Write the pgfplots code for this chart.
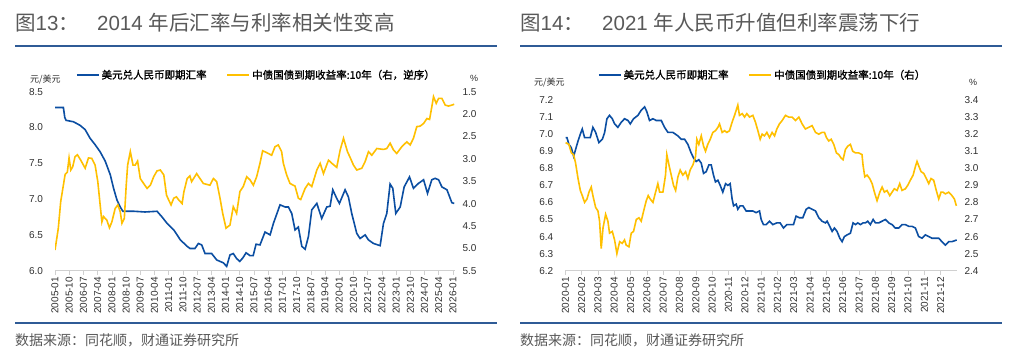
\documentclass[border=0pt]{standalone}
\usepackage{pgfplots}
\usepackage{pgfplotstable}
\pgfplotsset{compat=1.18}
\usepackage{fontspec}
\setmainfont{Liberation Sans}
\newfontfamily\cjk{Noto Sans CJK SC}
\newfontfamily\cjkb{Noto Sans CJK SC}[FakeBold=1.5]
\definecolor{cblue}{HTML}{0B4EA2}
\definecolor{cyellow}{HTML}{FFC000}
\definecolor{rulec}{HTML}{2F5B96}
\definecolor{titlegray}{HTML}{595959}
\definecolor{axgray}{HTML}{D0D0D0}
\definecolor{labgray}{HTML}{303030}

\pgfplotstableread{
x y
0 8.28
5.3 8.28
6.2 8.14
7.0 8.10
11.7 8.08
15.9 8.03
19.1 7.97
22.2 7.85
25.4 7.76
28.6 7.66
31.8 7.53
35 7.34
37.1 7.15
39.2 6.99
41.3 6.89
43 6.83
50 6.83
57 6.82
64.6 6.83
67.8 6.75
71 6.66
75.2 6.57
79.4 6.43
83.7 6.34
85.5 6.31
88.6 6.31
90.8 6.38
92.9 6.36
95 6.24
99.2 6.24
102.4 6.15
106.6 6.11
108.7 6.06
110.8 6.22
112.9 6.24
115 6.17
117 6.13
119 6.18
121 6.25
123.5 6.21
125.5 6.21
127.3 6.37
129.8 6.36
133 6.54
136.2 6.50
138.3 6.66
142.5 6.92
145.7 6.89
147.8 6.89
149.9 6.80
152 6.57
154.1 6.61
156.3 6.34
158.4 6.30
160.5 6.48
162.6 6.85
165.8 6.94
168.9 6.73
172.1 6.89
174.2 6.90
175.9 7.13
178.4 7.01
180.1 6.94
183.7 7.13
185.8 7.03
187.9 6.80
191.1 6.52
193.2 6.45
196.4 6.50
198.5 6.43
201.7 6.38
205.9 6.35
208 6.66
210.1 6.80
212.2 7.21
213.9 7.15
215.8 6.80
218.6 6.89
221.1 7.17
224.5 7.31
227 7.15
230.2 7.22
233.4 7.27
235.9 7.08
238.6 7.27
240.7 7.29
242.9 7.27
245 7.17
248.2 7.13
251.3 6.95
252.8 6.94
}\leftblue

\pgfplotstableread{
x y
0 5.04
2.1 4.55
3.6 3.96
5.3 3.59
6.4 3.35
7.8 3.30
8.9 2.98
10 3.25
11.2 3.18
12.7 2.95
14.2 2.91
16.3 3.03
19.1 3.21
21.2 2.98
23.3 2.99
25.4 3.14
27.1 3.51
28.6 4.03
29.7 4.41
30.7 4.29
32.8 4.37
34.5 4.54
36 4.41
38.1 4.11
39.8 4.03
41.3 4.18
42.4 4.44
43.9 4.33
45.1 3.59
46 3.14
47.7 2.84
49.4 3.14
50.8 3.14
52.3 3.05
54 3.44
56.1 3.55
58.3 3.66
60.4 3.59
62.5 3.40
64.6 3.27
66.7 3.25
68.9 3.36
70.6 3.81
72 3.92
73.5 4.03
75.2 3.88
76.9 3.85
78.4 3.92
80.5 4.00
81.6 3.74
83.7 3.44
85.4 3.38
86.5 3.51
89.7 3.33
91.8 3.44
93.9 3.55
98.1 3.59
100.3 3.44
102.4 3.51
104.5 3.88
106.2 4.22
108.3 4.55
110.8 4.48
112.9 4.07
115 4.22
117.1 3.73
119.2 3.62
121.4 3.40
123.5 3.47
125.6 3.59
127.7 3.40
129.8 3.10
131.5 2.82
134 2.86
137.2 2.92
139.3 2.73
141.4 2.69
143.5 2.84
144.6 3.10
146.7 3.36
148.8 3.55
152 3.61
154.1 3.88
155.6 3.91
158.4 3.66
160.5 3.55
162.6 3.62
165.8 3.25
167.9 3.10
170 3.33
173.2 3.03
175.3 3.10
178.4 3.19
180.6 2.80
182.7 2.54
185.2 2.84
186.9 2.97
189 3.14
191.1 3.25
194.3 3.21
196.4 3.06
198.5 2.84
200.6 2.92
203.8 2.77
208 2.79
210.1 2.77
212.2 2.65
214.3 2.80
216.4 2.88
219.6 2.73
222.8 2.62
224.9 2.69
227 2.54
229.1 2.28
231.2 2.27
233.4 2.21
235.5 2.10
237.2 2.12
238.6 1.84
239.7 1.61
241.4 1.76
242.9 1.65
245 1.65
247.1 1.80
249.2 1.82
251.3 1.80
252.8 1.78
}\leftyellow

\pgfplotstableread{
x y
0.02 6.98
0.1 6.98
0.22 6.94
0.37 6.92
0.51 6.87
0.63 6.91
0.78 6.96
0.92 7.00
1.04 7.03
1.18 6.98
1.39 6.98
1.53 6.98
1.69 7.04
1.86 7.01
2.06 6.95
2.27 6.97
2.41 7.01
2.55 7.09
2.71 7.11
2.88 7.09
3.02 7.06
3.22 7.04
3.43 7.07
3.63 7.09
3.84 7.08
3.98 7.06
4.18 7.09
4.45 7.11
4.65 7.14
4.86 7.16
5.0 7.13
5.16 7.08
5.37 7.09
5.57 7.08
5.88 7.08
6.08 7.04
6.29 7.01
6.59 7.01
6.9 6.99
7.1 6.97
7.31 6.97
7.51 6.94
7.71 6.89
7.86 6.86
8.02 6.84
8.18 6.85
8.33 6.83
8.47 6.77
8.63 6.78
8.8 6.82
8.94 6.82
9.08 6.76
9.2 6.72
9.35 6.73
9.49 6.70
9.65 6.66
9.82 6.71
9.96 6.70
10.1 6.71
10.22 6.62
10.31 6.58
10.47 6.59
10.57 6.56
10.71 6.58
10.88 6.58
11.08 6.55
11.29 6.55
11.49 6.55
11.69 6.54
11.9 6.55
12.0 6.50
12.14 6.47
12.31 6.47
12.51 6.49
12.71 6.47
12.96 6.48
13.16 6.48
13.37 6.45
13.57 6.47
13.78 6.47
13.98 6.47
14.14 6.52
14.35 6.51
14.55 6.51
14.76 6.56
14.92 6.57
15.12 6.56
15.33 6.55
15.53 6.51
15.73 6.49
15.94 6.48
16.04 6.49
16.2 6.46
16.35 6.43
16.49 6.45
16.65 6.43
16.82 6.39
16.96 6.37
17.1 6.40
17.27 6.41
17.47 6.42
17.63 6.48
17.78 6.47
17.92 6.48
18.08 6.47
18.24 6.48
18.39 6.48
18.53 6.49
18.69 6.47
18.86 6.50
19.0 6.48
19.2 6.48
19.41 6.49
19.61 6.50
19.82 6.48
20.02 6.47
20.22 6.45
20.43 6.45
20.63 6.47
20.84 6.47
21.04 6.46
21.24 6.46
21.45 6.45
21.65 6.40
21.86 6.39
22.06 6.41
22.27 6.40
22.47 6.39
22.67 6.39
22.88 6.39
23.08 6.37
23.29 6.35
23.49 6.37
23.69 6.37
23.98 6.38
}\rightblue

\pgfplotstableread{
x y
0.02 3.15
0.22 3.14
0.37 3.09
0.51 3.08
0.63 3.03
0.78 2.94
0.92 2.87
1.04 2.84
1.18 2.80
1.33 2.82
1.45 2.86
1.59 2.89
1.69 2.84
1.86 2.77
2.0 2.75
2.1 2.69
2.2 2.53
2.31 2.65
2.47 2.73
2.61 2.69
2.71 2.62
2.88 2.63
3.02 2.58
3.16 2.50
3.33 2.57
3.49 2.56
3.63 2.58
3.73 2.55
3.9 2.54
4.04 2.62
4.18 2.63
4.35 2.70
4.51 2.71
4.65 2.69
4.8 2.75
4.96 2.81
5.08 2.84
5.2 2.82
5.37 2.80
5.53 2.86
5.67 2.91
5.78 2.86
5.98 2.86
6.14 2.96
6.22 3.08
6.35 3.02
6.49 2.96
6.63 2.90
6.76 2.87
6.9 2.95
7.04 2.99
7.2 2.96
7.37 2.98
7.51 2.94
7.65 2.99
7.82 3.02
7.98 3.07
8.06 3.17
8.18 3.14
8.33 3.19
8.47 3.13
8.59 3.10
8.73 3.14
8.88 3.17
9.04 3.21
9.2 3.22
9.35 3.24
9.45 3.26
9.61 3.21
9.76 3.22
9.9 3.21
10.06 3.22
10.22 3.27
10.37 3.31
10.47 3.34
10.57 3.37
10.67 3.31
10.84 3.32
10.98 3.30
11.12 3.32
11.29 3.30
11.49 3.31
11.65 3.27
11.8 3.22
11.94 3.17
12.06 3.20
12.2 3.19
12.35 3.21
12.51 3.18
12.67 3.21
12.82 3.19
12.96 3.23
13.12 3.26
13.29 3.28
13.49 3.31
13.69 3.30
13.9 3.30
14.1 3.28
14.31 3.30
14.51 3.26
14.71 3.23
14.92 3.24
15.12 3.25
15.33 3.21
15.53 3.20
15.73 3.21
15.88 3.21
16.0 3.18
16.14 3.16
16.29 3.17
16.45 3.14
16.61 3.09
16.76 3.08
16.9 3.06
17.02 3.05
17.16 3.11
17.31 3.13
17.47 3.14
17.61 3.10
17.78 3.09
17.98 3.09
18.18 3.08
18.24 3.02
18.35 2.95
18.49 2.96
18.65 2.94
18.8 2.91
18.94 2.86
19.1 2.81
19.27 2.86
19.41 2.89
19.55 2.86
19.71 2.87
19.88 2.84
20.02 2.86
20.16 2.88
20.33 2.87
20.49 2.91
20.63 2.87
20.84 2.88
20.98 2.90
21.14 2.93
21.31 2.96
21.45 3.01
21.55 3.04
21.67 3.01
21.8 2.98
21.96 2.97
22.12 2.94
22.27 2.91
22.41 2.94
22.57 2.93
22.73 2.87
22.88 2.82
23.02 2.86
23.14 2.86
23.29 2.85
23.49 2.86
23.69 2.84
23.84 2.82
23.96 2.78
}\rightyellow

\pgfplotsset{
  basestyle/.style={
    scale only axis, anchor=south west,
    /pgf/number format/assume math mode=true,
    tick label style={font=\fontsize{10}{12}\selectfont, text=labgray},
    tick align=outside, major tick length=4pt,
    ytick style={draw=none},
    y axis line style={draw=none},
    yticklabel={\pgfmathprintnumber[fixed,fixed zerofill,precision=1]{\tick}},
  },
  leftax/.style={basestyle,
    axis x line*=bottom, axis y line*=left,
    x axis line style={draw=axgray, line width=0.8pt, -},
    xtick style={draw=axgray, line width=0.6pt},
    xticklabel style={rotate=90, anchor=east, inner sep=2pt},
    yticklabel style={xshift=-4.5pt},
  },
  rightax/.style={basestyle,
    axis x line=none, axis y line*=right,
  },
  leg/.style={
    legend columns=2,
    legend image code/.code={\draw[##1] (0pt,0pt) -- (22pt,0pt);},
    legend style={draw=none, fill=none, inner sep=0pt,
      font=\cjkb\fontsize{10.5}{12}\selectfont, text=black,
      nodes={inner sep=2pt},
      /tikz/every even column/.append style={column sep=18pt}},
  },
}

\begin{document}
\begin{tikzpicture}[x=1pt,y=1pt]
\useasboundingbox (0,0) rectangle (1024,356);
\fill[white] (0,0) rectangle (1024,356);

% ---------- titles ----------
\node[anchor=base west, inner sep=0pt, text=titlegray, font=\fontsize{20.5}{24}\selectfont] at (15,325) {{\cjk 图}13{\cjk ：}};
\node[anchor=base west, inner sep=0pt, text=titlegray, font=\fontsize{20.5}{24}\selectfont] at (97,325) {2014 {\cjk 年后汇率与利率相关性变高}};
\node[anchor=base west, inner sep=0pt, text=titlegray, font=\fontsize{20.5}{24}\selectfont] at (520,325) {{\cjk 图}14{\cjk ：}};
\node[anchor=base west, inner sep=0pt, text=titlegray, font=\fontsize{20.5}{24}\selectfont] at (602,325) {2021 {\cjk 年人民币升值但利率震荡下行}};

\draw[rulec, line width=1.3pt] (15,310) -- (497,310);
\draw[rulec, line width=1.3pt] (520,310) -- (1002,310);
\draw[rulec, line width=1.3pt] (15,33) -- (497,33);
\draw[rulec, line width=1.3pt] (520,33) -- (1002,33);

\node[anchor=west, inner sep=0pt, text=titlegray, font=\cjk\fontsize{14}{16}\selectfont] at (15,16) {数据来源：同花顺，财通证券研究所};
\node[anchor=west, inner sep=0pt, text=titlegray, font=\cjk\fontsize{14}{16}\selectfont] at (520,16) {数据来源：同花顺，财通证券研究所};

% unit labels
\node[anchor=west, inner sep=0pt, text=labgray, font=\cjk\fontsize{9}{10}\selectfont] at (30,276) {元/美元};
\node[anchor=west, inner sep=0pt, text=labgray, font=\fontsize{9}{10}\selectfont] at (470,278) {\%};
\node[anchor=west, inner sep=0pt, text=labgray, font=\cjk\fontsize{9}{10}\selectfont] at (534,273) {元/美元};
\node[anchor=west, inner sep=0pt, text=labgray, font=\fontsize{9}{10}\selectfont] at (969,274) {\%};

% ---------- left chart ----------
\begin{axis}[leftax, leg, at={(55pt,85.3pt)}, width=400pt, height=179pt,
  xmin=0, xmax=253.3, ymin=6, ymax=8.5,
  ytick={6,6.5,7,7.5,8,8.5},
  xtick={0,9,...,252},
  xticklabels={2005-01,2005-10,2006-07,2007-04,2008-01,2008-10,2009-07,2010-04,2011-01,2011-10,2012-07,2013-04,2014-01,2014-10,2015-07,2016-04,2017-01,2017-10,2018-07,2019-04,2020-01,2020-10,2021-07,2022-04,2023-01,2023-10,2024-07,2025-04,2026-01},
  legend style={at={(0.052,1.093)}, anchor=west}]
\addplot[cblue, line width=1.6pt] table {\leftblue};
\addlegendentry{美元兑人民币即期汇率}
\addlegendimage{cyellow, line width=1.6pt}
\addlegendentry{中债国债到期收益率:10年（右，逆序）}
\end{axis}
\begin{axis}[rightax, at={(55pt,85.3pt)}, width=400pt, height=179pt,
  xmin=0, xmax=253.3, ymin=1.5, ymax=5.5, y dir=reverse,
  ytick={1.5,2,2.5,3,3.5,4,4.5,5,5.5}]
\addplot[cyellow, line width=1.6pt] table {\leftyellow};
\end{axis}

% ---------- right chart ----------
\begin{axis}[leftax, leg, at={(565.3pt,85.3pt)}, width=391.7pt, height=170.7pt,
  xmin=0, xmax=24, ymin=6.2, ymax=7.2,
  ytick={6.2,6.3,6.4,6.5,6.6,6.7,6.8,6.9,7.0,7.1,7.2},
  xtick={0,1,...,23},
  xticklabels={2020-01,2020-02,2020-03,2020-04,2020-05,2020-06,2020-07,2020-08,2020-09,2020-10,2020-11,2020-12,2021-01,2021-02,2021-03,2021-04,2021-05,2021-06,2021-07,2021-08,2021-09,2021-10,2021-11,2021-12},
  legend style={at={(0.083,1.146)}, anchor=west}]
\addplot[cblue, line width=1.6pt] table {\rightblue};
\addlegendentry{美元兑人民币即期汇率}
\addlegendimage{cyellow, line width=1.6pt}
\addlegendentry{中债国债到期收益率:10年（右）}
\end{axis}
\begin{axis}[rightax, at={(565.3pt,85.3pt)}, width=391.7pt, height=170.7pt,
  xmin=0, xmax=24, ymin=2.4, ymax=3.4,
  ytick={2.4,2.5,2.6,2.7,2.8,2.9,3.0,3.1,3.2,3.3,3.4}]
\addplot[cyellow, line width=1.6pt] table {\rightyellow};
\end{axis}
\end{tikzpicture}
\end{document}
